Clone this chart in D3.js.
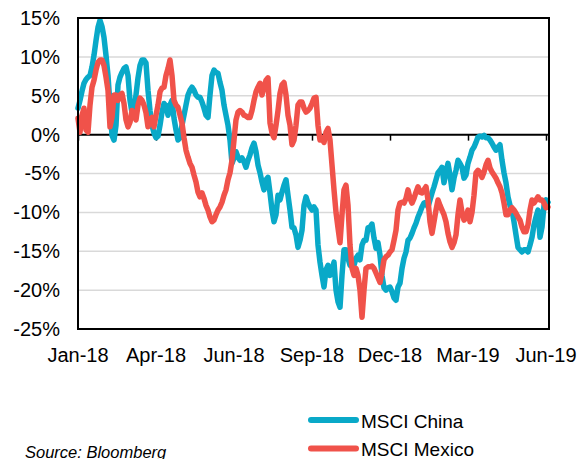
<!DOCTYPE html>
<html>
<head>
<meta charset="utf-8">
<script src="https://cdn.jsdelivr.net/npm/d3@7"></script>
<style>
  html, body { margin: 0; padding: 0; background: #fff; }
  svg { display: block; }
  text { font-family: Arial, "Liberation Sans", sans-serif; fill: #000; }
</style>
</head>
<body>
<svg id="chart" width="581" height="459"></svg>
<script>
// Relative performance since start of 2018, in percent (trading-day samples)
const seriesNames = ["MSCI China", "MSCI Mexico"];
const seriesColors = ["#09A9C8", "#F0524A"];

const msciChina = [
  3.4,4.4,5.6,6.6,7.1,7.4,7.6,8.7,10.2,12.1,
  13.8,14.7,13.9,12.5,10.2,7.6,3.8,-0.1,-0.7,1.2,
  6.4,7.4,8.0,8.5,8.7,7.6,4.4,2.8,3.1,5.1,
  7.3,8.9,9.6,9.6,9.2,5.7,3.1,1.2,0.2,-0.4,
  -0.2,1.2,2.9,4.0,3.7,2.5,3.8,4.4,2.1,0.6,
  -0.7,-0.4,1.2,2.5,3.8,5.1,5.7,6.1,5.7,5.1,
  4.8,4.8,4.2,3.4,2.5,2.2,5.1,7.6,8.3,8.0,
  7.9,6.7,5.7,3.8,2.5,1.2,-0.7,-3.7,-3.0,-2.2,
  -2.9,-3.3,-3.0,-3.5,-4.2,-3.3,-2.6,-1.7,-1.1,-2.2,
  -3.9,-4.9,-6.1,-7.1,-5.8,-5.5,-7.5,-9.7,-11.2,-10.3,
  -7.8,-8.4,-7.4,-6.5,-5.8,-7.8,-9.7,-11.9,-12.0,-12.9,
  -14.5,-13.6,-12.3,-9.1,-8.0,-8.8,-9.3,-9.7,-9.3,-9.7,
  -14.2,-16.4,-18.1,-19.6,-17.4,-16.8,-18.1,-17.4,-16.4,-20.0,
  -21.5,-22.2,-18.1,-14.8,-14.8,-15.9,-16.8,-16.4,-16.8,-15.9,
  -15.5,-16.1,-14.2,-13.6,-13.6,-12.0,-11.9,-11.5,-13.3,-14.6,
  -13.9,-15.5,-18.1,-19.7,-20.0,-19.7,-19.6,-20.2,-21.0,-21.3,
  -19.6,-19.1,-17.2,-15.9,-15.1,-13.6,-13.3,-12.7,-12.0,-11.4,
  -10.6,-10.0,-9.3,-8.8,-8.7,-9.3,-8.4,-7.5,-6.7,-5.8,
  -4.9,-4.6,-4.2,-6.2,-4.8,-3.7,-5.2,-7.1,-5.6,-4.6,
  -3.3,-3.7,-4.2,-5.6,-5.2,-3.7,-2.9,-2.0,-1.6,-1.0,
  -0.3,-0.2,-0.3,-0.1,-0.4,-0.4,-0.7,-1.1,-1.6,-2.0,
  -1.6,-1.3,-3.3,-4.9,-6.2,-8.0,-9.1,-9.7,-11.2,-12.9,
  -14.5,-14.8,-15.1,-14.8,-14.8,-15.1,-14.2,-13.2,-11.6,-10.6,
  -9.7,-13.2,-11.9,-9.1,-8.4,-8.7
];

const msciMexico = [
  2.1,0.3,2.5,3.4,0.6,0.3,3.8,6.1,7.0,8.3,
  9.3,9.6,9.6,8.9,7.4,5.7,1.0,2.2,5.1,5.1,
  4.4,5.1,5.3,4.0,1.9,1.0,1.6,3.1,2.5,1.9,
  3.8,4.7,4.4,3.8,2.8,1.0,1.9,2.2,1.0,2.5,
  3.8,5.5,6.0,6.1,7.6,8.5,9.6,7.6,4.4,3.8,
  3.5,2.5,1.5,-0.4,-2.0,-2.9,-3.7,-4.2,-5.2,-6.1,
  -7.4,-8.0,-7.5,-8.2,-9.1,-9.7,-10.6,-11.2,-11.0,-10.3,
  -9.7,-9.3,-8.7,-7.8,-7.1,-5.8,-4.9,-3.3,-0.7,1.9,
  2.9,3.1,2.9,2.5,2.4,2.2,2.2,3.1,4.4,5.5,
  6.1,6.6,5.1,6.0,7.0,7.3,1.5,0.2,-0.4,1.2,
  3.1,5.3,6.4,6.7,5.1,2.5,1.2,-1.3,-0.7,1.2,
  3.8,4.2,4.2,3.4,2.9,3.1,3.4,4.0,4.7,4.8,
  1.2,-0.7,-0.4,-1.0,0.3,0.8,-0.7,-3.9,-7.1,-10.0,
  -12.0,-13.9,-10.3,-7.1,-6.5,-9.1,-14.2,-17.2,-18.1,-17.2,
  -18.1,-20.0,-23.5,-20.0,-17.2,-17.0,-17.0,-16.9,-17.2,-17.8,
  -18.4,-19.0,-17.7,-16.1,-15.7,-15.5,-15.1,-14.8,-13.6,-12.3,
  -9.7,-8.8,-8.7,-8.8,-8.2,-7.1,-8.2,-8.8,-8.2,-7.4,
  -6.7,-7.4,-7.5,-7.1,-6.7,-8.4,-11.2,-12.7,-11.2,-9.7,
  -8.4,-9.1,-9.7,-10.3,-11.2,-12.7,-13.8,-14.5,-13.9,-12.9,
  -10.3,-8.4,-10.0,-11.0,-10.7,-9.7,-11.2,-10.0,-7.8,-4.9,
  -4.6,-4.9,-5.5,-4.8,-3.9,-3.3,-4.3,-4.8,-5.2,-5.6,
  -6.2,-6.7,-7.5,-8.8,-10.3,-10.3,-9.7,-9.4,-9.7,-10.1,
  -10.6,-11.0,-11.9,-12.5,-12.5,-11.6,-9.7,-8.4,-8.8,-8.4,
  -8.0,-8.4,-8.4,-8.8,-9.4,-9.3
];

// Category-axis labels and the sample index each one sits on
const xTickLabels = ["Jan-18", "Apr-18", "Jun-18", "Sep-18", "Dec-18", "Mar-19", "Jun-19"];
const xTickIndex = [0, 39, 78, 117, 156, 195, 234];
const yTicks = [15, 10, 5, 0, -5, -10, -15, -20, -25];

const svg = d3.select("#chart");
const plot = { left: 78, right: 549, top: 18, bottom: 329 };

const x = d3.scaleLinear()
  .domain([0, msciChina.length - 1])
  .range([plot.left, plot.right - 1]);
const y = d3.scaleLinear()
  .domain([-25, 15])
  .range([plot.bottom, plot.top]);

// Horizontal gridlines
svg.append("g")
  .selectAll("line")
  .data(yTicks.filter(d => d !== 0 && d !== 15 && d !== -25))
  .join("line")
  .attr("x1", plot.left).attr("x2", plot.right)
  .attr("y1", d => y(d)).attr("y2", d => y(d))
  .attr("stroke", "#D9D9D9")
  .attr("stroke-width", 1.5);

// Y axis labels
const yAxis = d3.axisLeft(y)
  .tickValues(yTicks)
  .tickSize(0)
  .tickPadding(18)
  .tickFormat(d => d + "%");
const gy = svg.append("g")
  .attr("transform", `translate(${plot.left},0)`)
  .call(yAxis);
gy.select(".domain").remove();
gy.selectAll("text")
  .style("font-size", "20px")
  .style("font-family", "Arial, 'Liberation Sans', sans-serif")
  .attr("fill", "#000");

// Zero line with category ticks
const xAxis = d3.axisBottom(x)
  .tickValues(xTickIndex)
  .tickSize(6)
  .tickFormat("");
const gx = svg.append("g")
  .attr("transform", `translate(0,${y(0)})`)
  .call(xAxis);
gx.select(".domain").remove();
gx.selectAll(".tick line").attr("stroke", "#000").attr("stroke-width", 1.5);
svg.append("line")
  .attr("x1", plot.left).attr("x2", plot.right)
  .attr("y1", y(0)).attr("y2", y(0))
  .attr("stroke", "#000").attr("stroke-width", 2);

// Category labels along the bottom
svg.append("g")
  .selectAll("text")
  .data(xTickIndex)
  .join("text")
  .attr("x", d => x(d))
  .attr("y", 362)
  .attr("text-anchor", "middle")
  .style("font-size", "20px")
  .text((d, i) => xTickLabels[i]);

// Series lines
const line = d3.line()
  .x((d, i) => x(i))
  .y(d => y(d))
  .curve(d3.curveLinear);

[msciChina, msciMexico].forEach((values, k) => {
  svg.append("path")
    .datum(values)
    .attr("fill", "none")
    .attr("stroke", seriesColors[k])
    .attr("stroke-width", 5.5)
    .attr("stroke-linejoin", "round")
    .attr("stroke-linecap", "round")
    .attr("d", line);
});

// Plot frame
svg.append("rect")
  .attr("x", plot.left).attr("y", plot.top)
  .attr("width", plot.right - plot.left)
  .attr("height", plot.bottom - plot.top)
  .attr("fill", "none")
  .attr("stroke", "#000")
  .attr("stroke-width", 2);

// Legend
const legend = svg.append("g");
seriesNames.forEach((name, k) => {
  const ly = 420 + k * 28.5;
  legend.append("line")
    .attr("x1", 311).attr("x2", 356)
    .attr("y1", ly).attr("y2", ly)
    .attr("stroke", seriesColors[k])
    .attr("stroke-width", 6)
    .attr("stroke-linecap", "round");
  legend.append("text")
    .attr("x", 361)
    .attr("y", ly + 7.5)
    .style("font-size", "19px")
    .text(name);
});

// Source note
svg.append("text")
  .attr("x", 25)
  .attr("y", 457.5)
  .style("font-size", "16.5px")
  .style("font-style", "italic")
  .text("Source: Bloomberg");
</script>
</body>
</html>
